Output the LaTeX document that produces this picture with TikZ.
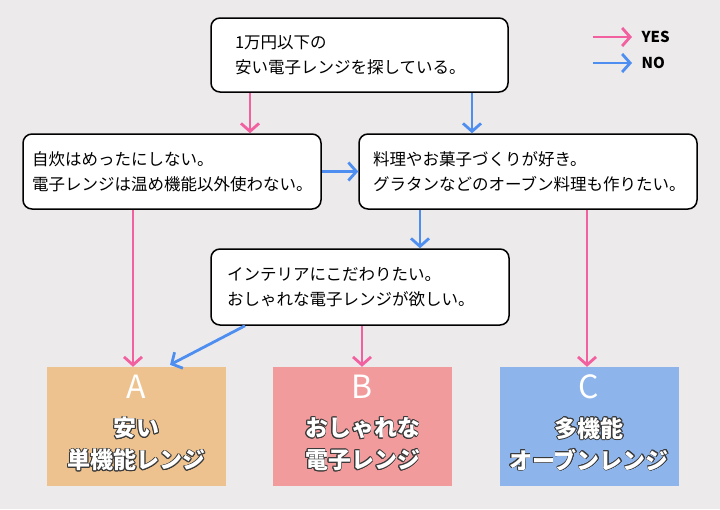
\documentclass[tikz,border=0pt]{standalone}
\usepackage{fontspec}
\setmainfont{Noto Sans CJK JP}
\usepackage[copies]{contour}
\usetikzlibrary{arrows.meta}
\definecolor{bgcol}{HTML}{ECEAEB}
\definecolor{yescol}{HTML}{F2609F}
\definecolor{nocol}{HTML}{4D8EF0}
\definecolor{cola}{HTML}{EEC28E}
\definecolor{colb}{HTML}{F29B9D}
\definecolor{colc}{HTML}{8DB4EB}
\definecolor{outl}{HTML}{3A3A3A}
\contourlength{0.7pt}
\newcommand{\rlab}[1]{\contour{outl}{#1}}

\begin{document}
\begin{tikzpicture}[x=1pt, y=-1pt,
	q/.style={draw=black, line width=1.5pt, rounded corners=9pt, fill=white, align=left,
		text=black, font=\fontsize{16.5}{25}\selectfont},
	res/.style={minimum width=179pt, minimum height=119pt, inner sep=0pt},
	letter/.style={text=white, font=\fontsize{32}{32}\selectfont},
	reslabel/.style={text=white, align=center, font=\fontsize{23}{32}\selectfont\bfseries},
	legend/.style={text=black, font=\fontsize{15}{15}\selectfont\bfseries},
	yesarr/.style={draw=yescol, line width=2.8pt, -{Straight Barb[length=8pt,width=18pt]}},
	noarr/.style={yesarr, draw=nocol}]
	\fill [bgcol] (0,0) rectangle (720,509);
	\node [q, text width=249pt, inner xsep=24pt, minimum height=74pt] (start) at (359.5,55) {1万円以下の\\安い電子レンジを探している。};
	\node [q, text width=280pt, inner xsep=9pt, minimum height=75pt] (nocook) at (172,171.5) {自炊はめったにしない。\\電子レンジは温め機能以外使わない。};
	\node [q, text width=310pt, inner xsep=14pt, minimum height=75pt] (cook) at (528,171.5) {料理やお菓子づくりが好き。\\グラタンなどのオーブン料理も作りたい。};
	\node [q, text width=266pt, inner xsep=16pt, minimum height=76pt] (style) at (360,287) {インテリアにこだわりたい。\\おしゃれな電子レンジが欲しい。};

	\node [res, fill=cola] (A) at (136.5,426.5) {};
	\node [res, fill=colb] (B) at (362.5,426.5) {};
	\node [res, fill=colc] (C) at (589,426.5) {};
	\node [letter] (Aa) at ([yshift=-20pt]A.north) {A};
	\node [letter] (Ba) at ([yshift=-20pt]B.north) {B};
	\node [letter] (Ca) at ([yshift=-20pt]C.north) {C};
	\node [reslabel] (At) at ([yshift=-18pt]A.center) {\rlab{安い}\\\rlab{単機能レンジ}};
	\node [reslabel] (Bt) at ([yshift=-18pt]B.center) {\rlab{おしゃれな}\\\rlab{電子レンジ}};
	\node [reslabel] (Ct) at ([yshift=-18pt]C.center) {\rlab{多機能}\\\rlab{オーブンレンジ}};

	\coordinate (a1) at ([xshift=-109.5pt]start.south);
	\coordinate (a2) at ([xshift=112.5pt]start.south);
	\coordinate (a4) at ([xshift=-39pt]nocook.south);
	\coordinate (a5) at ([xshift=-108pt]cook.south);
	\coordinate (a6) at ([xshift=59pt]cook.south);
	\coordinate (a7) at ([xshift=-115pt]style.south);
	\coordinate (a8) at ([xshift=2pt]style.south);
	\draw [yesarr] (a1) -- (a1 |- nocook.north);
	\draw [noarr] (a2) -- (a2 |- cook.north);
	\draw [noarr] (nocook.east) -- (cook.west);
	\draw [yesarr] (a4) -- (a4 |- A.north);
	\draw [noarr] (a5) -- (a5 |- style.north);
	\draw [yesarr] (a6) -- (a6 |- C.north);
	\draw [noarr] (a7) -- ([xshift=33.5pt,yshift=2pt]A.north);
	\draw [yesarr] (a8) -- (a8 |- B.north);

	\node [legend, anchor=west] (yes) at (638,37) {YES};
	\node [legend, anchor=west] (no) at (638,63) {NO};
	\draw [yesarr] ([xshift=-45pt]yes.west) -- ([xshift=-6pt]yes.west);
	\draw [noarr] ([xshift=-45pt]no.west) -- ([xshift=-6pt]no.west);
\end{tikzpicture}
\end{document}
